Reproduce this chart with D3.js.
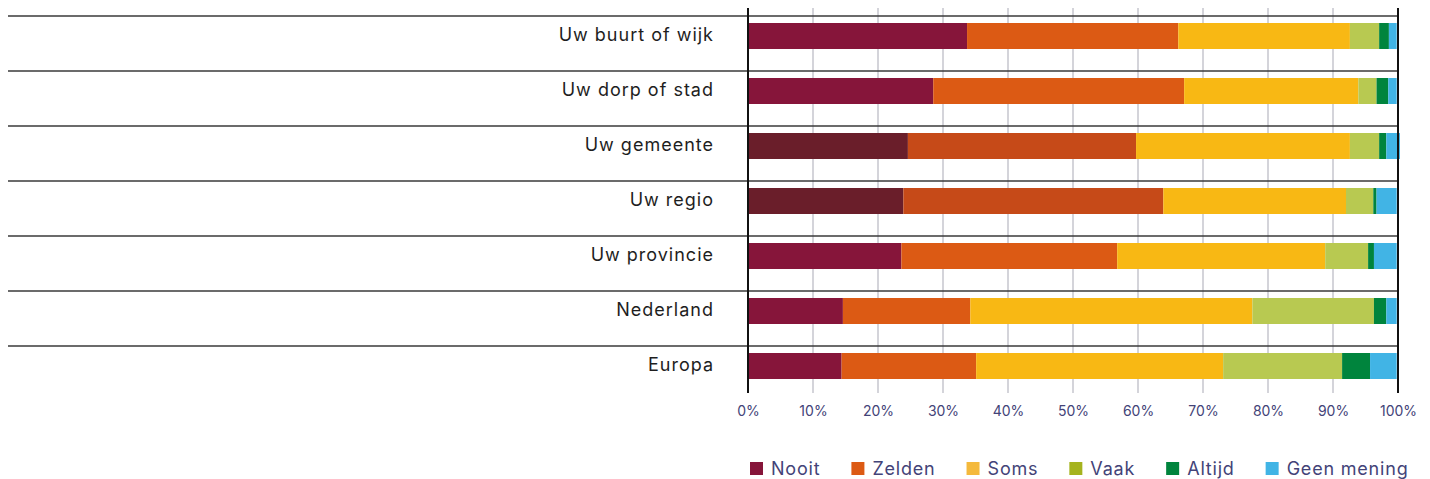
<!DOCTYPE html>
<html>
<head>
<meta charset="utf-8">
<script src="https://cdn.jsdelivr.net/npm/d3@7"></script>
<style>
  body { margin: 0; background: #fff; }
  svg { display: block; font-family: Inter, "DejaVu Sans", sans-serif; }
</style>
</head>
<body>
<div id="chart"></div>
<script>
var categories = ["Uw buurt of wijk", "Uw dorp of stad", "Uw gemeente", "Uw regio", "Uw provincie", "Nederland", "Europa"];
var keys = ["Nooit", "Zelden", "Soms", "Vaak", "Altijd", "Geen mening"];

var nooit  = [33.7, 28.5, 24.6, 23.9, 23.6, 14.6, 14.4];
var zelden = [32.5, 38.6, 35.1, 40.0, 33.2, 19.6, 20.7];
var soms   = [26.4, 26.8, 32.9, 28.1, 32.0, 43.4, 38.0];
var vaak   = [ 4.5,  2.8,  4.5,  4.2,  6.6, 18.7, 18.3];
var altijd = [ 1.5,  1.8,  1.1,  0.5,  0.9,  1.9,  4.3];
var geen   = [ 1.2,  1.3,  2.1,  3.1,  3.5,  1.6,  4.1];

var tickValues = [0, 10, 20, 30, 40, 50, 60, 70, 80, 90, 100];
var darkRows = ["Uw gemeente", "Uw regio"];

var barColors = ["#86153a", "#dc5a14", "#f8b814", "#b8c951", "#00843d", "#41b4e5"];
var darkColors = ["#6a1e2a", "#c64a18"];
var legendColors = ["#86153a", "#dc5a14", "#f4b93c", "#a5b31e", "#00843d", "#41b4e5"];

var data = categories.map(function(c, i) {
  return {cat: c, "Nooit": nooit[i], "Zelden": zelden[i], "Soms": soms[i],
          "Vaak": vaak[i], "Altijd": altijd[i], "Geen mening": geen[i]};
});

var W = 1430, H = 479;
var svg = d3.select("#chart").append("svg").attr("width", W).attr("height", H);

var x = d3.scaleLinear().domain([0, 100]).range([748, 1398]);
var rowTop = 16, rowH = 55, barOff = 7, barH = 26;
var gridTop = 8, gridBottom = 393;

var y = d3.scaleBand().domain(categories).range([rowTop, rowTop + rowH * categories.length]);

// gridlines
svg.append("g").selectAll("line")
  .data(tickValues.filter(function(t) { return t > 0 && t < 100; }))
  .enter().append("line")
  .attr("x1", function(d) { return x(d); }).attr("x2", function(d) { return x(d); })
  .attr("y1", gridTop).attr("y2", gridBottom)
  .attr("stroke", "#c6c6ce").attr("stroke-width", 1.5);

// row separators
svg.append("g").selectAll("line")
  .data(categories)
  .enter().append("line")
  .attr("x1", 8).attr("x2", x(100))
  .attr("y1", function(d) { return y(d); }).attr("y2", function(d) { return y(d); })
  .attr("stroke", "#3a3a3a").attr("stroke-width", 1.5);

var series = d3.stack().keys(keys)(data);

svg.append("g").selectAll("g")
  .data(series)
  .enter().append("g")
  .selectAll("rect")
  .data(function(s) { return s.map(function(d) { d.key = s.key; d.index = s.index; return d; }); })
  .enter().append("rect")
  .attr("x", function(d) { return x(d[0]); })
  .attr("width", function(d) { return x(d[1]) - x(d[0]); })
  .attr("y", function(d) { return y(d.data.cat) + barOff; })
  .attr("height", barH)
  .attr("fill", function(d) {
    if (darkRows.indexOf(d.data.cat) >= 0 && d.index < 2) return darkColors[d.index];
    return barColors[d.index];
  });

// 0% and 100% axis lines
svg.append("g").selectAll("line")
  .data([0, 100])
  .enter().append("line")
  .attr("x1", function(d) { return x(d); }).attr("x2", function(d) { return x(d); })
  .attr("y1", gridTop).attr("y2", gridBottom)
  .attr("stroke", "#111").attr("stroke-width", 2);

// category labels
svg.append("g").selectAll("text")
  .data(categories)
  .enter().append("text")
  .attr("x", 714)
  .attr("y", function(d) { return y(d) + barOff + barH / 2 - 1; })
  .attr("dy", "0.35em")
  .attr("text-anchor", "end")
  .attr("font-size", 18)
  .attr("letter-spacing", 1)
  .attr("fill", "#1e1e1e")
  .text(function(d) { return d; });

// x axis tick labels
var xAxis = d3.axisBottom(x).tickValues(tickValues).tickSize(0).tickPadding(0)
  .tickFormat(function(d) { return d + "%"; });
var ax = svg.append("g").attr("transform", "translate(0,406)").call(xAxis);
ax.select(".domain").remove();
ax.selectAll("text").attr("font-size", 14).attr("fill", "#434378")
  .attr("font-family", "Inter, 'DejaVu Sans', sans-serif").attr("dy", "0.71em");

// legend
var legend = svg.append("g").attr("transform", "translate(750,462)");
var lx = 0;
keys.forEach(function(k, i) {
  var item = legend.append("g").attr("transform", "translate(" + lx + ",0)");
  item.append("rect").attr("width", 13).attr("height", 13).attr("fill", legendColors[i]);
  var t = item.append("text").attr("x", 21).attr("y", 7).attr("dy", "0.35em")
    .attr("font-size", 18).attr("letter-spacing", 0.8).attr("fill", "#434378").text(k);
  lx += 21 + t.node().getComputedTextLength() + 31;
});
</script>
</body>
</html>
